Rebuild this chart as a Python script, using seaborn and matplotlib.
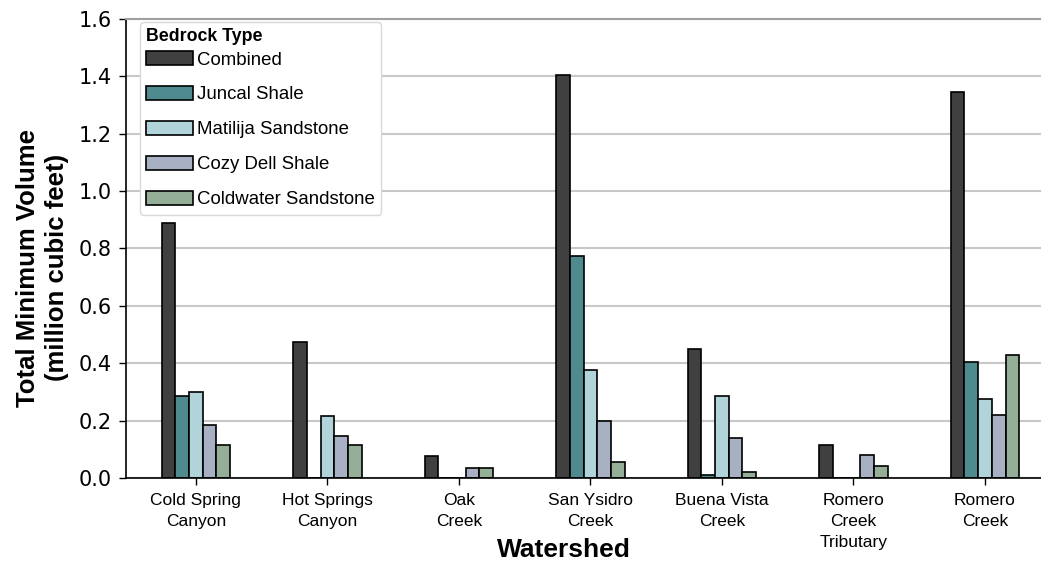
import matplotlib
matplotlib.use('Agg')
import matplotlib.pyplot as plt
from matplotlib.patches import Patch
import pandas as pd
import seaborn as sns

# data (million cubic feet)
watersheds = ['Cold Spring\nCanyon', 'Hot Springs\nCanyon', 'Oak\nCreek', 'San Ysidro\nCreek',
              'Buena Vista\nCreek', 'Romero\nCreek\nTributary', 'Romero\nCreek']
bedrock = ['Combined', 'Juncal Shale', 'Matilija Sandstone', 'Cozy Dell Shale', 'Coldwater Sandstone']
combined = [0.89, 0.475, 0.075, 1.405, 0.45, 0.115, 1.345]
juncal = [0.285, 0.0, 0.0, 0.775, 0.01, 0.0, 0.405]
matilija = [0.30, 0.215, 0.0, 0.375, 0.285, 0.0, 0.275]
cozy_dell = [0.185, 0.145, 0.035, 0.20, 0.14, 0.08, 0.22]
coldwater = [0.115, 0.115, 0.035, 0.055, 0.02, 0.04, 0.43]
colors = ['#404040', '#4e8a8e', '#b1d4da', '#a8b1c3', '#95ae98']

series = [combined, juncal, matilija, cozy_dell, coldwater]
rows = []
for name, vals in zip(bedrock, series):
    for ws, v in zip(watersheds, vals):
        rows.append({'Watershed': ws, 'Bedrock Type': name, 'Volume': v})
df = pd.DataFrame(rows)

sns.set_style('ticks')
plt.rcParams['font.family'] = ['Liberation Sans', 'DejaVu Sans']
for k in ['text.color', 'axes.labelcolor', 'xtick.color', 'ytick.color']:
    plt.rcParams[k] = 'black'

fig = plt.figure(figsize=(10.41, 5.71), dpi=100)
ax = fig.add_axes([0.121, 0.163, 0.8924, 0.8039])

sns.barplot(data=df, x='Watershed', y='Volume', hue='Bedrock Type', hue_order=bedrock,
            order=watersheds, palette=colors, width=0.52, gap=0, edgecolor='black',
            linewidth=1.2, saturation=1, ax=ax, legend=False)

ax.set_xlim(-0.532, 6.532)
ax.set_ylim(0, 1.6)
ax.set_yticks([0, 0.2, 0.4, 0.6, 0.8, 1.0, 1.2, 1.4, 1.6])
ax.yaxis.grid(True, color='#c8c8c8', linewidth=1.5)
ax.set_axisbelow(True)

ax.spines['top'].set_color('#a0a0a0')
ax.spines['top'].set_linewidth(1.5)
ax.spines['right'].set_visible(False)
for s in ['left', 'bottom']:
    ax.spines[s].set_color('black')
    ax.spines[s].set_linewidth(1.2)

ax.tick_params(axis='y', length=5, width=1, pad=5, labelsize=15)
ax.tick_params(axis='x', length=5, width=1, pad=5.5, labelsize=12.5)
for lbl in ax.get_yticklabels():
    lbl.set_fontfamily('DejaVu Sans')
for lbl in ax.get_xticklabels():
    lbl.set_linespacing(1.5)

ax.set_xlabel('Watershed', fontsize=19, fontweight='bold')
ax.set_ylabel('Total Minimum Volume\n(million cubic feet)', fontsize=18.5, fontweight='bold',
              linespacing=1.3)
ax.xaxis.set_label_coords((564 - 126) / 929, -0.13)
ax.yaxis.set_label_coords(-0.061, 0.4575)

handles = [Patch(facecolor=c, edgecolor='black', linewidth=1.2, label=b)
           for c, b in zip(colors, bedrock)]
leg = ax.legend(handles=handles, title='Bedrock Type', loc='upper left',
                bbox_to_anchor=(0.015, 0.9935), borderaxespad=0, fontsize=13.4,
                title_fontproperties={'weight': 'bold', 'size': 12.8},
                labelspacing=0.93, handlelength=2.52, handleheight=0.8,
                handletextpad=0.2, borderpad=0.35, frameon=True, fancybox=True,
                framealpha=1, edgecolor='#d8d8d8')
leg._legend_box.align = 'left'
leg._legend_box.sep = 4.0  # tighter gap under the title

fig.savefig('out.png', dpi=100)
